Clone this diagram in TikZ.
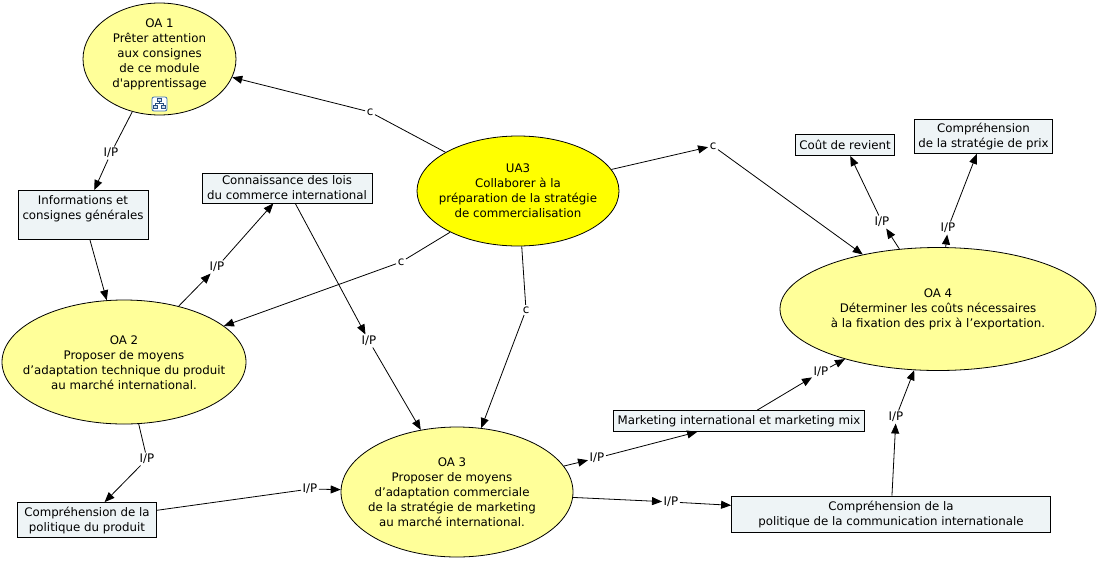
\documentclass[tikz,border=0pt]{standalone}
\usepackage{fontspec}
\setmainfont{DejaVu Sans}
\usetikzlibrary{arrows.meta, shapes.geometric}
\definecolor{ovalyellow}{HTML}{FFFF99}
\definecolor{rootyellow}{HTML}{FFFF00}
\definecolor{boxgray}{HTML}{EEF4F6}
\definecolor{iconblue}{HTML}{3B6FB6}

\begin{document}
\begin{tikzpicture}[x=1pt, y=-1pt,
	every node/.style={font=\fontsize{11.8}{15}\selectfont, align=center, inner sep=0pt},
	oval/.style={ellipse, draw, fill=ovalyellow, line width=0.8pt},
	concept/.style={draw, fill=boxgray, line width=0.8pt, inner xsep=4pt, inner ysep=2pt},
	linkword/.style={fill=white, inner sep=1.5pt},
	link/.style={line width=0.8pt},
	arc/.style={line width=0.8pt, -{Triangle[length=10pt,width=8pt]}}]
	\useasboundingbox (0,0) rectangle (1099,560);
	\node[oval, minimum width=153, minimum height=112] (oa1) at (159.5,59) {};
	\node (oa1txt) at (159.5,54.5) {OA 1\\Prêter attention\\ aux consignes\\ de ce module\\d\textquotesingle apprentissage};
	\node[draw=iconblue, fill=white, rounded corners=2pt, line width=0.8pt, minimum width=15, minimum height=14] (icon) at (159.5,104) {};
	\draw[iconblue!70!black, fill=iconblue!25, line width=0.5pt] (157.5,98.5) rectangle (161.5,101) (153.5,105.5) rectangle (157.5,108.5) (161.5,105.5) rectangle (165.5,108.5);
	\draw[iconblue!70!black, line width=0.5pt] (159.5,101) -- (159.5,103) (155.5,105.5) -- (155.5,103) -- (163.5,103) -- (163.5,105.5);
	\node[concept, minimum width=130, minimum height=49] (info) at (83,215) {Informations et\\consignes générales\\\mbox{}};
	\node[concept, minimum width=170, minimum height=30] (conn) at (287,188) {Connaissance des lois\\du commerce international};
	\node[oval, fill=rootyellow, minimum width=202, minimum height=110] (ua3) at (518,191) {};
	\node (ua3txt) at (518,191) {UA3\\Collaborer à la\\préparation de la stratégie\\de commercialisation};
	\node[concept, minimum height=21] (cout) at (845,145) {Coût de revient};
	\node[concept, minimum height=34] (prix) at (983.5,136.5) {Compréhension\\de la stratégie de prix};
	\node[oval, minimum width=316, minimum height=123] (oa4) at (938,309) {};
	\node (oa4txt) at (938,309) {OA 4\\Déterminer les coûts nécessaires\\à la fixation des prix à l’exportation.};
	\node[oval, minimum width=244, minimum height=124] (oa2) at (124,362) {};
	\node (oa2txt) at (124,363) {OA 2\\Proposer de moyens \\d’adaptation technique du produit\\au marché international.};
	\node[concept, minimum height=21] (mkt) at (739,421) {Marketing international et marketing mix};
	\node[oval, minimum width=232, minimum height=130] (oa3) at (457,492) {};
	\node (oa3txt) at (452,492) {OA 3\\Proposer de moyens\\d’adaptation commerciale\\de la stratégie de marketing\\au marché international.};
	\node[concept, minimum width=139, minimum height=35] (prod) at (87,520) {Compréhension de la\\politique du produit};
	\node[concept, minimum width=319, minimum height=36] (comm) at (891,514) {Compréhension de la\\politique de la communication internationale};
	\node[linkword] (c1) at (370,112) {c};
	\node[linkword] (ip1) at (111,153) {I/P};
	\node[linkword] (c2) at (713,146) {c};
	\node[linkword] (ip2) at (217,267) {I/P};
	\node[linkword] (c3) at (401,262) {c};
	\node[linkword] (ip3) at (369,341) {I/P};
	\node[linkword] (c4) at (526,310) {c};
	\node[linkword] (ip4) at (882,222) {I/P};
	\node[linkword] (ip5) at (948,228) {I/P};
	\node[linkword] (ip6) at (147,459) {I/P};
	\node[linkword] (ip7) at (310,489) {I/P};
	\node[linkword] (ip8) at (597,458) {I/P};
	\node[linkword] (ip9) at (821,372) {I/P};
	\node[linkword] (ip10) at (671,502) {I/P};
	\node[linkword] (ip11) at (896,417) {I/P};
	\draw[link] (ua3) -- (c1);
	\draw[arc] (c1) -- (oa1);
	\draw[link] (oa1) -- (ip1);
	\draw[arc] (ip1) -- (info);
	\draw[arc] (info) -- (oa2);
	\draw[arc] (ua3) -- (c2);
	\draw[arc] (c2) -- (oa4);
	\draw[arc] (oa2) -- (ip2);
	\draw[arc] (ip2) -- (conn);
	\draw[link] (ua3) -- (c3);
	\draw[arc] (c3) -- (oa2);
	\draw[arc] (conn) -- (ip3);
	\draw[arc] (ip3) -- (oa3);
	\draw[link] (ua3) -- (c4);
	\draw[arc] (c4) -- (oa3);
	\draw[arc] (oa4) -- (ip4);
	\draw[arc] (ip4) -- (cout);
	\draw[arc] (oa4) -- (ip5);
	\draw[arc] (ip5) -- (prix);
	\draw[link] (oa2) -- (ip6);
	\draw[arc] (ip6) -- (prod);
	\draw[link] (prod) -- (ip7);
	\draw[arc] (ip7) -- (oa3);
	\draw[arc] (oa3) -- (ip8);
	\draw[arc] (ip8) -- (mkt);
	\draw[arc] (mkt) -- (ip9);
	\draw[arc] (ip9) -- (oa4);
	\draw[arc] (oa3) -- (ip10);
	\draw[arc] (ip10) -- (comm);
	\draw[arc] (comm) -- (ip11);
	\draw[arc] (ip11) -- (oa4);
\end{tikzpicture}
\end{document}
